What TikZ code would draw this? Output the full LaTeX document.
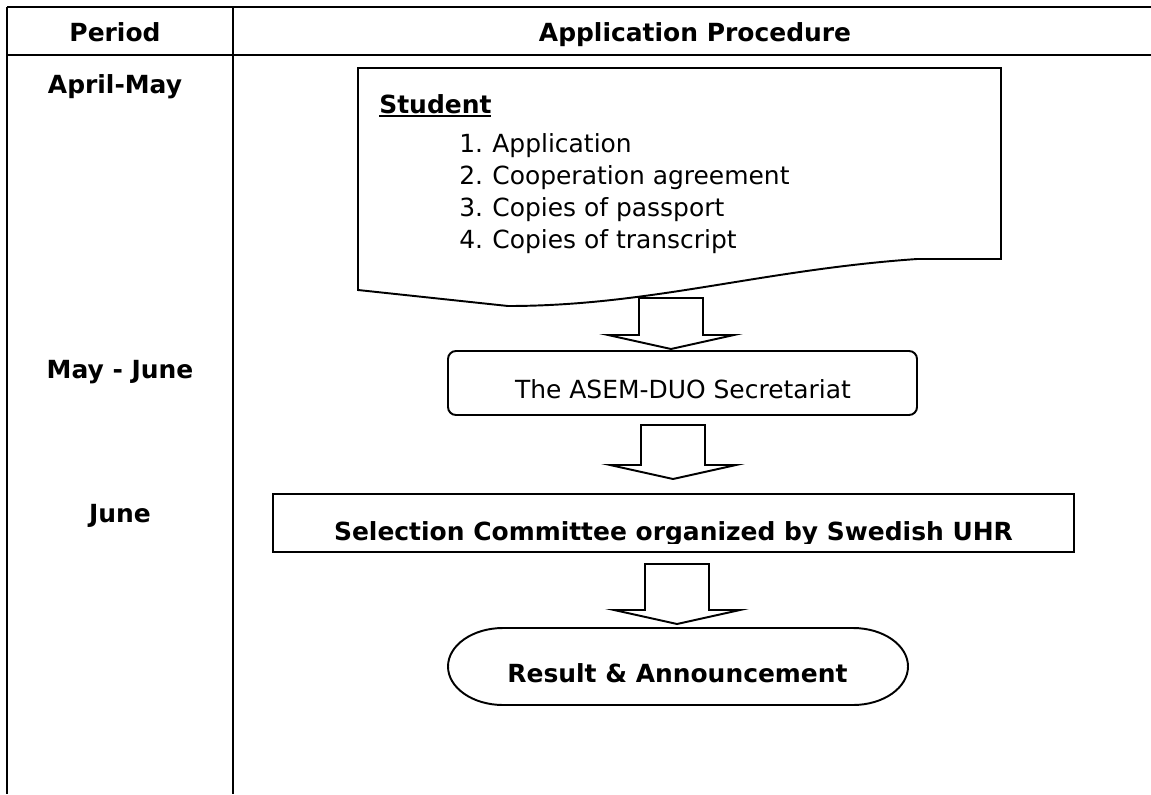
\documentclass[tikz,border=0pt]{standalone}
\usepackage{fontspec}
\setmainfont{DejaVu Sans}
\usetikzlibrary{calc}
\tikzset{
tablerule/.style={line width=1.5pt},
boxline/.style={line width=1.1pt},
blockarrow/.style={line width=1.1pt, fill=white, line join=miter},
headtext/.style={font=\bfseries\fontsize{14.2}{17}\selectfont, anchor=base, inner sep=0pt},
bodytext/.style={font=\fontsize{14.2}{17}\selectfont, anchor=base west, inner sep=0pt}
}
\newcommand{\ulword}[1]{\setbox0\hbox{#1}\rlap{\rule[-2.3pt]{\wd0}{1.1pt}}\box0}
\newcommand{\blockdown}[2]{\draw[blockarrow] ($(#1)+(-32,0)$) -- ($(#1)+(32,0)$) |- ($(#2)+(63,14)$) -- (#2) -- ($(#2)+(-63,14)$) -| ($(#1)+(-32,0)$) -- cycle;}
\begin{document}
\begin{tikzpicture}[x=0.02cm,y=0.02cm]
\useasboundingbox (0,0) rectangle (1151,-794);
\draw[tablerule] (7,-7) -- (1151,-7);
\draw[tablerule] (7,-55) -- (1151,-55);
\draw[tablerule] (7,-7) -- (7,-794);
\draw[tablerule] (233,-7) -- (233,-794);
\node[headtext] (period) at (115,-42) {Period};
\node[headtext] (procedure) at (695,-42) {Application Procedure};
\node[headtext] (aprilmay) at (115,-93) {April-May};
\node[headtext] (mayjune) at (120,-378) {May - June};
\node[headtext] (june) at (120,-522) {June};
\draw[boxline, fill=white] (358,-68) -- (1001,-68) -- (1001,-259) -- (917,-259) .. controls (760,-270) and (650,-306) .. (508,-306) -- (358,-290) -- cycle;
\node[headtext, anchor=base west] (student) at (379,-113) {\ulword{Student}};
\node[bodytext] (num1) at (459,-152) {1.};
\node[bodytext] (item1) at (492,-152) {Application};
\node[bodytext] (num2) at (459,-184) {2.};
\node[bodytext] (item2) at (492,-184) {Cooperation agreement};
\node[bodytext] (num3) at (459,-216) {3.};
\node[bodytext] (item3) at (492,-216) {Copies of passport};
\node[bodytext] (num4) at (459,-248) {4.};
\node[bodytext] (item4) at (492,-248) {Copies of transcript};
\draw[boxline, rounded corners=0.16cm] (448,-351) rectangle (917,-415);
\node[bodytext, anchor=base] (secretariat) at (683,-398) {The ASEM-DUO Secretariat};
\begin{scope}
\clip (273,-494) rectangle (1074,-543);
\node[headtext] (committee) at (673.5,-540) {Selection Committee organized by Swedish UHR};
\end{scope}
\draw[boxline] (273,-494) rectangle (1074,-552);
\draw[boxline] (503,-628) -- (853,-628) arc[start angle=90, end angle=-90, x radius=55, y radius=38.5] -- (503,-705) arc[start angle=270, end angle=90, x radius=55, y radius=38.5] -- cycle;
\node[headtext] (result) at (677.5,-682) {Result \& Announcement};
\coordinate (studentout) at (671,-298);
\coordinate (secretariatin) at (671,-349);
\coordinate (secretariatout) at (673,-425);
\coordinate (committeein) at (673,-479);
\coordinate (committeeout) at (677,-564);
\coordinate (resultin) at (677,-624);
\blockdown{studentout}{secretariatin}
\blockdown{secretariatout}{committeein}
\blockdown{committeeout}{resultin}
\end{tikzpicture}
\end{document}
